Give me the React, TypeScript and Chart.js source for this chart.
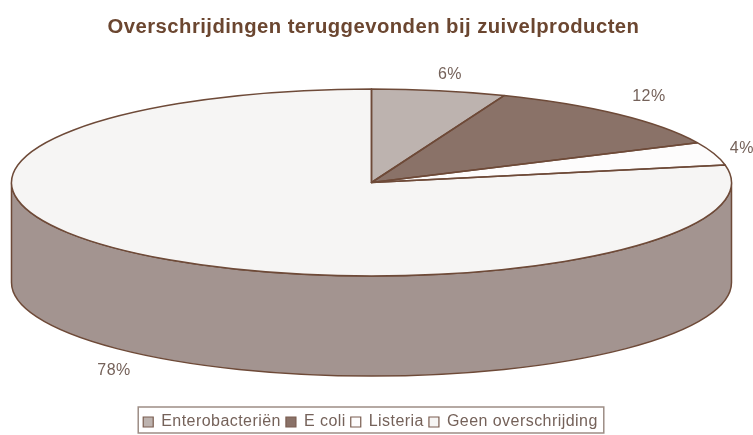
import React, { useEffect, useRef } from "react";
import { Chart, registerables } from "chart.js";

Chart.register(...registerables);

const categories = ["Enterobacteriën", "E coli", "Listeria", "Geen overschrijding"];
const values = [6, 12, 4, 78];
const percentLabels = ["6%", "12%", "4%", "78%"];
const sliceColors = ["#bdb3af", "#8a7268", "#fdfcfc", "#f6f5f4"];
const chartTitle = "Overschrijdingen teruggevonden bij zuivelproducten";

const STROKE = "#6e4a38";
const WALL = "#a39490";
const TEXT = "#75625a";
const CX = 371.5;
const CY = 182.5;
const RX = 360;
const RY = 93.5;
const DEPTH = 100;
// Offset of each percent label from the rim point at the slice's mid-angle
const labelNudges = [[11, -16], [31, -18], [28, -5], [-28, 16]];

const pie3d = {
  id: "pie3d",
  beforeUpdate(chart: any) {
    chart.ctx.letterSpacing = "0.45px";
  },
  afterLayout(chart: any) {
    const legend = chart.legend;
    legend.left -= 3;
    legend.right -= 3;
    legend.legendHitBoxes.forEach((b: any) => {
      b.left -= 3;
    });
  },
  beforeDatasetsDraw(chart: any) {
    const ctx = chart.ctx;
    const arc = chart.getDatasetMeta(0).data[0];
    const { x, y, outerRadius } = arc.getProps(["x", "y", "outerRadius"], true);
    ctx.save();
    ctx.beginPath();
    ctx.moveTo(CX - RX, CY);
    ctx.lineTo(CX - RX, CY + DEPTH);
    ctx.ellipse(CX, CY + DEPTH, RX, RY, 0, Math.PI, 0, true);
    ctx.lineTo(CX + RX, CY);
    ctx.ellipse(CX, CY, RX, RY, 0, 0, Math.PI, false);
    ctx.closePath();
    ctx.fillStyle = WALL;
    ctx.fill();
    ctx.strokeStyle = STROKE;
    ctx.lineWidth = 1.5;
    ctx.stroke();
    ctx.restore();
    ctx.save();
    ctx.translate(CX, CY);
    ctx.scale(RX / outerRadius, RY / outerRadius);
    ctx.translate(-x, -y);
  },
  afterDatasetsDraw(chart: any) {
    const ctx = chart.ctx;
    ctx.restore();
    const arcs = chart.getDatasetMeta(0).data;
    ctx.save();
    ctx.strokeStyle = STROKE;
    ctx.lineWidth = 1.5;
    ctx.lineJoin = "round";
    arcs.forEach((a: any) => {
      const { startAngle, endAngle } = a.getProps(["startAngle", "endAngle"], true);
      ctx.beginPath();
      ctx.moveTo(CX, CY);
      ctx.ellipse(CX, CY, RX, RY, 0, startAngle, endAngle, false);
      ctx.closePath();
      ctx.stroke();
    });
    ctx.font = "16px 'Liberation Sans'";
    ctx.fillStyle = TEXT;
    ctx.textAlign = "center";
    ctx.textBaseline = "middle";
    arcs.forEach((a: any, i: number) => {
      const { startAngle, endAngle } = a.getProps(["startAngle", "endAngle"], true);
      const mid = (startAngle + endAngle) / 2;
      const rimX = CX + RX * Math.cos(mid);
      const rimY = CY + RY * Math.sin(mid) + (Math.sin(mid) > 0 ? DEPTH : 0);
      ctx.fillText(percentLabels[i], rimX + labelNudges[i][0], rimY + labelNudges[i][1]);
    });
    ctx.restore();
  },
  afterDraw(chart: any) {
    const boxes = chart.legend.legendHitBoxes;
    if (!boxes || !boxes.length) return;
    const ctx = chart.ctx;
    const last = boxes[boxes.length - 1];
    ctx.save();
    ctx.strokeStyle = "#9d8d85";
    ctx.lineWidth = 1.5;
    const left = boxes[0].left - 5;
    const right = last.left + last.width + 6;
    ctx.strokeRect(left, 407, right - left, 26);
    ctx.restore();
  },
};

export default function App() {
  const ref = useRef<HTMLCanvasElement>(null);
  useEffect(() => {
    document.body.style.margin = "0";
    const chart = new Chart(ref.current!, {
      type: "pie",
      data: {
        labels: categories,
        datasets: [
          {
            data: values,
            backgroundColor: sliceColors,
            borderWidth: 0,
            clip: false,
          } as any,
        ],
      },
      options: {
        animation: false,
        responsive: false,
        layout: { padding: { top: 0, bottom: -5, left: 0, right: 6 } },
        plugins: {
          tooltip: { enabled: false },
          title: {
            display: true,
            text: chartTitle,
            color: "#6b4630",
            font: { family: "'Liberation Sans'", size: 20.3, weight: "bold" },
            padding: { top: 15, bottom: 10 },
          },
          legend: {
            display: true,
            position: "bottom",
            labels: {
              color: TEXT,
              font: { family: "'Liberation Sans'", size: 16 },
              boxWidth: 10,
              boxHeight: 10,
              padding: 5,
              generateLabels: (c: any) =>
                c.data.labels.map((t: string, i: number) => ({
                  text: t,
                  fillStyle: c.data.datasets[0].backgroundColor[i],
                  strokeStyle: "#7a5d50",
                  lineWidth: 1.2,
                  index: i,
                  fontColor: TEXT,
                })),
            },
          },
        },
      },
      plugins: [pie3d],
    } as any);
    return () => chart.destroy();
  }, []);
  return <canvas ref={ref} width={753} height={435} style={{ display: "block" }} />;
}
